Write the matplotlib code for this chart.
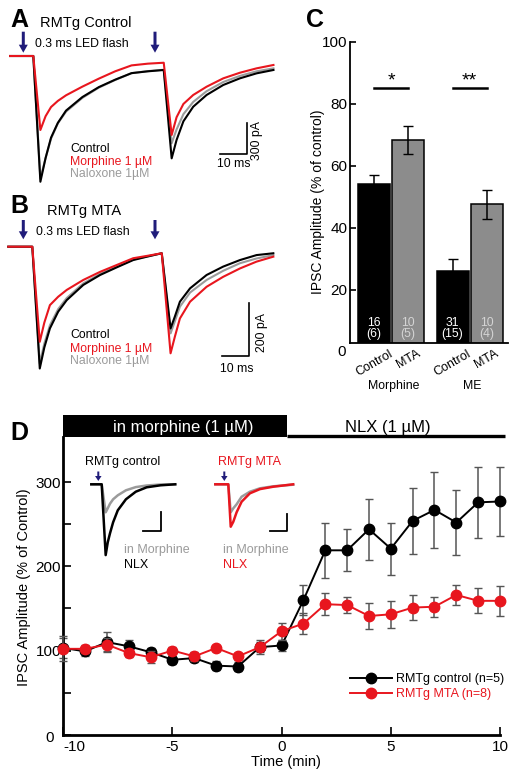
import numpy as np
import matplotlib
matplotlib.use('Agg')
import matplotlib.pyplot as plt
import matplotlib.transforms as mtransforms
from matplotlib.patches import Rectangle

plt.rcParams['font.family'] = ['Liberation Sans', 'DejaVu Sans']
plt.rcParams['axes.unicode_minus'] = False

W, H = 517, 779
RED = '#e8161e'
GREY = '#9b9b9b'
NAVY = '#201c7a'

# ---- A: RMTg control, paired IPSCs (ms, pA) ----
a_time = [-8.5, 0, 2.6, 4.5, 6.5, 9, 12, 18, 24, 30, 36, 42, 47.8,
          50.7, 52.5, 55, 58.6, 63.5, 69.6, 75.7, 81.8, 88]
a_control = [0, 0, -1232, -1000, -800, -655, -535, -402, -305, -232, -168, -150, -137,
             -1003, -823, -640, -497, -382, -284, -219, -170, -137]
a_morphine = [0, 0, -725, -590, -500, -440, -385, -300, -222, -150, -92, -75, -66,
              -774, -600, -470, -382, -301, -219, -164, -121, -88]
a_naloxone = [0, 0, -1200, -1000, -810, -660, -545, -410, -310, -235, -168, -148, -135,
              -855, -720, -570, -450, -345, -255, -195, -150, -121]

# ---- B: RMTg MTA ----
b_time = [-9, 0, 2.8, 4.5, 6.6, 9.7, 12.9, 19.1, 25.4, 31.6, 37.8, 43, 48.5,
          51.8, 53.4, 55.3, 59.1, 65.3, 71.5, 77.8, 84, 90.3]
b_control = [0, 0, -465, -385, -312, -248, -204, -146, -108, -79, -51, -38, -25,
             -312, -267, -210, -159, -108, -76, -51, -32, -25]
b_morphine = [0, 0, -363, -290, -223, -191, -165, -127, -96, -70, -44, -35, -25,
              -407, -344, -274, -210, -153, -115, -83, -57, -38]
b_naloxone = [0, 0, -446, -370, -300, -238, -196, -140, -104, -76, -49, -37, -25,
              -331, -285, -229, -175, -127, -92, -63, -45, -32]

# ---- C: IPSC amplitude (% of control) ----
c_labels = ['Control', 'MTA', 'Control', 'MTA']
c_groups = ['Morphine', 'ME']
c_mean = [54, 68.4, 26.1, 47.6]
c_sem = [3, 4.5, 4, 4.6]
c_cells = ['16', '10', '31', '10']
c_rats = ['(6)', '(5)', '(15)', '(4)']

# ---- D: time course ----
d_time = np.arange(-10, 11)
d_ctrl = [103, 99, 110, 105, 98, 89, 91, 82, 81, 104, 106, 160,
          219, 219, 244, 221, 254, 267, 252, 276, 277]
d_ctrl_err = [12, 5, 12, 7, 5, 5, 5, 5, 5, 6, 6, 18,
              33, 25, 36, 31, 39, 45, 39, 42, 41]
d_mta = [102, 102, 107, 97, 92, 100, 93, 103, 93, 104, 123, 132,
         155, 154, 141, 143, 151, 152, 166, 159, 159]
d_mta_err = [15, 5, 8, 5, 7, 4, 5, 4, 4, 8, 10, 12,
             13, 10, 15, 16, 15, 12, 12, 15, 18]

# insets in D (arbitrary ms / pA)
i1_time = [-6, 0, 2.3, 3.5, 4.8, 6.6, 9.3, 14, 19.7, 26, 34, 42.5]
i1_nlx = [0, 0, -354, -290, -245, -190, -130, -75, -37, -15, -5, 0]
i1_morph = [0, 0, -140, -120, -97, -75, -55, -30, -14, -6, -1, 0]
i2_time = [-7.5, 0, 1.4, 2.9, 4.8, 7.7, 12.5, 18.3, 26, 37.5]
i2_nlx = [0, 0, -212, -187, -140, -87, -45, -24, -12, 0]
i2_morph = [0, 0, -140, -120, -100, -62, -37, -20, -10, -2]

fig = plt.figure(figsize=(W / 100, H / 100), dpi=100)


def px_axes(x0, y0, x1, y1):
    ax = fig.add_axes([x0 / W, 1 - y1 / H, (x1 - x0) / W, (y1 - y0) / H])
    ax.patch.set_alpha(0)
    return ax


def traces(ax, t, ctl, mor, nal, lw=1.5):
    ax.plot(t, nal, color=GREY, lw=lw)
    ax.plot(t, ctl, color='k', lw=lw)
    ax.plot(t, mor, color=RED, lw=lw)
    ax.axis('off')


# panel A
axA = px_axes(0, 50, 280, 190)
traces(axA, a_time, a_control, a_morphine, a_naloxone)
axA.set_xlim(-12.2, 90.4)
axA.set_ylim(-1313, 58.8)
axA.plot([68.4, 78.4, 78.4], [-960, -960, -660], color='k', lw=1.2)

# panel B
axB = px_axes(0, 240, 280, 385)
traces(axB, b_time, b_control, b_morphine, b_naloxone)
axB.set_xlim(-12.1, 92.8)
axB.set_ylim(-528, 25.6)
axB.plot([71, 81, 81], [-416, -416, -216], color='k', lw=1.2)

# panel C
axC = px_axes(350, 41.7, 507.7, 343.3)
xpos = [0.7, 1.7, 3.0, 4.0]
cols = ['black', '#8c8c8c', 'black', '#8c8c8c']
axC.bar(xpos, c_mean, width=0.94, color=cols, edgecolor='k', lw=1.1)
axC.errorbar(xpos, c_mean, yerr=c_sem, fmt='none', ecolor='k', elinewidth=1.1, capsize=3.5)
axC.set_xlim(0, 4.61)
axC.set_ylim(2.8, 100)
axC.spines[['top', 'right']].set_visible(False)
axC.spines[['left', 'bottom']].set_linewidth(1.3)
axC.set_yticks([20, 40, 60, 80, 100])
axC.tick_params(axis='y', direction='in', length=4, width=1.2, labelsize=11, pad=2)
axC.set_xticks(xpos, c_labels, rotation=30, fontsize=9)
axC.tick_params(axis='x', length=0, pad=3)
trans = mtransforms.blended_transform_factory(axC.transAxes, axC.transData)
axC.text(-0.025, 0, '0', transform=trans, ha='right', va='center', fontsize=11, clip_on=False)
for i in range(4):
    tc = 'white' if i % 2 == 0 else '#d4d4d4'
    axC.text(xpos[i], 9.3, c_cells[i], color=tc, ha='center', va='center', fontsize=8.8)
    axC.text(xpos[i], 5.9, c_rats[i], color=tc, ha='center', va='center', fontsize=8.8)
for (l, r), star in zip([(0, 1), (2, 3)], ['*', '**']):
    axC.plot([xpos[l], xpos[r]], [85, 85], color='k', lw=1.8)
    axC.text((xpos[l] + xpos[r]) / 2, 84.6, star, ha='center', va='bottom', fontsize=14)

# panel D
axD = px_axes(63.3, 437, 500, 734.7)
axD.errorbar(d_time, d_ctrl, yerr=d_ctrl_err, fmt='none', ecolor='#555555',
             elinewidth=1.1, capsize=3, zorder=2, clip_on=False)
axD.plot(d_time, d_ctrl, 'o-', color='k', ms=7.5, lw=1.4, zorder=3, clip_on=False,
         label='RMTg control (n=5)')
axD.errorbar(d_time, d_mta, yerr=d_mta_err, fmt='none', ecolor='#555555',
             elinewidth=1.1, capsize=3, zorder=4, clip_on=False)
axD.plot(d_time, d_mta, 'o-', color=RED, ms=7.5, lw=1.4, zorder=5, clip_on=False,
         label='RMTg MTA (n=8)')
axD.set_xlim(-10, 10)
axD.set_ylim(0, 353.6)
axD.spines[['top', 'right']].set_visible(False)
axD.spines[['left', 'bottom']].set_linewidth(2)
axD.set_xticks([-10, -5, 0, 5, 10])
axD.set_yticks([0, 100, 200, 300], ['', '100', '200', '300'])
axD.set_yticks([50, 150, 250], minor=True)
axD.tick_params(which='both', direction='in', length=6, width=1.2, labelsize=11)
axD.tick_params(axis='y', pad=1.5)
axD.tick_params(axis='x', pad=4)
axD.get_xticklabels()[0].set_horizontalalignment('left')
leg = axD.legend(loc='upper left', bbox_to_anchor=(0.6565, 0.207), frameon=False,
                 fontsize=9, handlelength=3.4, handletextpad=0.3, labelspacing=0.25,
                 borderpad=0, borderaxespad=0)
leg.get_texts()[1].set_color(RED)

# insets
in1 = px_axes(85, 465, 180, 560)
in1.plot(i1_time, i1_morph, color=GREY, lw=1.8)
in1.plot(i1_time, i1_nlx, color='k', lw=1.8)
in1.plot([24, 34, 34], [-233, -233, -137], color='k', lw=1.3)
in1.set_xlim(-9.65, 45.26)
in1.set_ylim(-378.5, 96.5)
in1.axis('off')
in2 = px_axes(210, 465, 300, 560)
in2.plot(i2_time, i2_morph, color=GREY, lw=1.8)
in2.plot(i2_time, i2_nlx, color=RED, lw=1.8)
in2.plot([24, 34, 34], [-233, -233, -150], color='k', lw=1.3)
in2.set_xlim(-10.58, 41.45)
in2.set_ylim(-378.5, 96.5)
in2.axis('off')

# overlay for labels, arrows and the drug bar
bg = fig.add_axes([0, 0, 1, 1], zorder=10)
bg.set_xlim(0, W)
bg.set_ylim(H, 0)
bg.axis('off')
bg.patch.set_visible(False)


def arrow(x, y0, y1, big=True):
    if big:
        bg.arrow(x, y0, 0, y1 - y0, width=3, head_width=9, head_length=8,
                 length_includes_head=True, color=NAVY, lw=0)
    else:
        bg.arrow(x, y0, 0, y1 - y0, width=2, head_width=6.5, head_length=5,
                 length_includes_head=True, color=NAVY, lw=0)


for x in [23.3, 155]:
    arrow(x, 31.7, 52.7)
    arrow(x, 220, 239.3)
arrow(98.3, 471.5, 481, big=False)
arrow(224.3, 471.5, 481, big=False)

bg.text(10, 26.7, 'A', fontsize=18, fontweight='bold', va='baseline')
bg.text(40, 27.3, 'RMTg Control', fontsize=10.5, va='baseline')
bg.text(35, 46.7, '0.3 ms LED flash', fontsize=8.8, va='baseline')
bg.text(70, 152, 'Control', fontsize=8.8, va='baseline')
bg.text(70, 165, 'Morphine 1 µM', fontsize=8.8, va='baseline', color=RED)
bg.text(70, 177, 'Naloxone 1µM', fontsize=8.8, va='baseline', color=GREY)
bg.text(234, 166.7, '10 ms', fontsize=8.8, va='baseline', ha='center')
bg.text(257, 141, '300 pA', fontsize=8.8, va='center', ha='center', rotation=90)

bg.text(10, 213.3, 'B', fontsize=18, fontweight='bold', va='baseline')
bg.text(46.7, 215, 'RMTg MTA', fontsize=10.5, va='baseline')
bg.text(36, 235, '0.3 ms LED flash', fontsize=8.8, va='baseline')
bg.text(70, 338, 'Control', fontsize=8.8, va='baseline')
bg.text(70, 351.7, 'Morphine 1 µM', fontsize=8.8, va='baseline', color=RED)
bg.text(70, 363.5, 'Naloxone 1µM', fontsize=8.8, va='baseline', color=GREY)
bg.text(236.7, 372, '10 ms', fontsize=8.8, va='baseline', ha='center')
bg.text(262, 333, '200 pA', fontsize=8.8, va='center', ha='center', rotation=90)

bg.text(306, 26.7, 'C', fontsize=18, fontweight='bold', va='baseline')
bg.text(318, 202, 'IPSC Amplitude (% of control)', fontsize=10, rotation=90,
        ha='center', va='center')
bg.text(394, 389, c_groups[0], fontsize=8.8, ha='center', va='baseline')
bg.text(472, 389, c_groups[1], fontsize=8.8, ha='center', va='baseline')

bg.text(10, 440, 'D', fontsize=18, fontweight='bold', va='baseline')
bg.add_patch(Rectangle((63, 415), 224, 22, color='k', lw=0))
bg.plot([287, 505], [436, 436], color='k', lw=2.4, solid_capstyle='butt')
bg.text(183.3, 432, 'in morphine (1 µM)', color='white', fontsize=12, ha='center', va='baseline')
bg.text(388, 432, 'NLX (1 µM)', color='k', fontsize=12, ha='center', va='baseline')
bg.text(24, 587, 'IPSC Amplitude (% of Control)', fontsize=10.5, rotation=90,
        ha='center', va='center')
bg.text(286, 762, 'Time (min)', fontsize=10.5, ha='center', va='center')
bg.text(53.5, 738, '0', fontsize=11, ha='right', va='center')

bg.text(85, 465, 'RMTg control', fontsize=9, va='baseline')
bg.text(218.3, 465, 'RMTg MTA', fontsize=9, va='baseline', color=RED)
bg.text(124.3, 553, 'in Morphine', fontsize=9, va='baseline', color=GREY)
bg.text(124.3, 568, 'NLX', fontsize=9, va='baseline', color='k')
bg.text(223.3, 553, 'in Morphine', fontsize=9, va='baseline', color=GREY)
bg.text(223.3, 568, 'NLX', fontsize=9, va='baseline', color=RED)

fig.savefig('out.png', dpi=100)
